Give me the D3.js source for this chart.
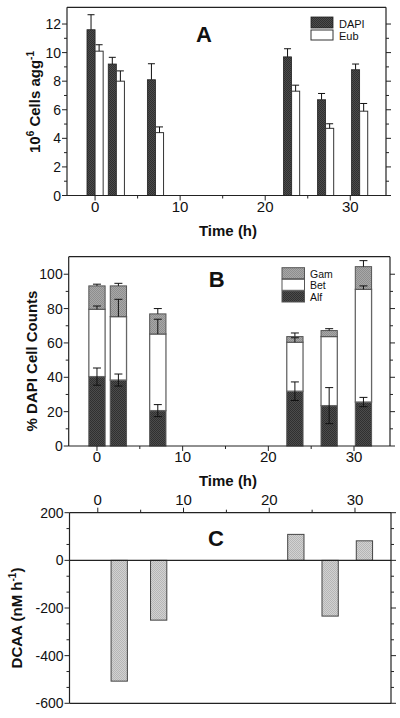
<!DOCTYPE html>
<html><head><meta charset="utf-8">
<script src="https://cdn.jsdelivr.net/npm/d3@7"></script>
<style>
html,body{margin:0;padding:0;background:#fff;}
svg{display:block;font-family:"Liberation Sans",Arial,sans-serif;}
</style></head>
<body>
<svg id="chart" width="400" height="718"></svg>
<script>
// ---- data ----
const times = [0, 2.5, 7.1, 23.1, 27.1, 31.1];
// Panel A
const dapi = [11.6, 9.2, 8.1, 9.7, 6.7, 8.8];
const dapiErr = [1.05, 0.47, 1.12, 0.57, 0.44, 0.4];
const eub = [10.1, 8.0, 4.4, 7.3, 4.7, 5.9];
const eubErr = [0.45, 0.72, 0.4, 0.42, 0.32, 0.54];
// Panel B (stacked percentages)
const alf = [40.4, 38.4, 20.6, 31.9, 23.5, 25.6];
const alfErr = [5.0, 3.5, 3.5, 5.4, 10.5, 2.7];
const bet = [39.2, 36.9, 44.6, 28.5, 40.2, 65.6];
const betErr = [1.9, 10.1, 8.6, 2.6, 0, 2.0];
const gam = [13.6, 17.9, 11.7, 3.3, 3.5, 13.2];
const gamErr = [1.0, 1.5, 3.1, 2.1, 1.1, 3.5];
// Panel C
const timesC = [2.5, 7.1, 23.1, 27.1, 31.1];
const dcaa = [-507, -251, 109, -234, 82];
// ticks
const xTicks = [0, 10, 20, 30];
const xMinor = [5, 15, 25];
const yTicksA = [0, 2, 4, 6, 8, 10, 12];
const yTicksB = [0, 20, 40, 60, 80, 100];
const yTicksC = [-600, -400, -200, 0, 200];

const svg = d3.select("#chart");
const defs = svg.append("defs");
function stipple(id, c1, c2) {
  const p = defs.append("pattern").attr("id", id).attr("width", 2).attr("height", 2)
    .attr("patternUnits", "userSpaceOnUse");
  p.append("rect").attr("width", 2).attr("height", 2).attr("fill", c1);
  p.append("rect").attr("width", 1).attr("height", 1).attr("fill", c2);
  p.append("rect").attr("x", 1).attr("y", 1).attr("width", 1).attr("height", 1).attr("fill", c2);
}
stipple("pDark", "#4c4c4c", "#303030");
stipple("pGam", "#a8a8a8", "#8e8e8e");
stipple("pC", "#d2d2d2", "#b6b6b6");

const AX = "#222";
const tickFont = 14;

function frame(g, x, y, opts) {
  const [x0, x1] = x.range();
  const [y0, y1] = y.range();
  const lw = 1.2;
  g.append("line").attr("x1", x0).attr("x2", x0).attr("y1", y1).attr("y2", y0).attr("stroke", AX).attr("stroke-width", lw);
  g.append("line").attr("x1", x1).attr("x2", x1).attr("y1", y1).attr("y2", y0).attr("stroke", AX).attr("stroke-width", lw);
  g.append("line").attr("x1", x0).attr("x2", x1).attr("y1", y1).attr("y2", y1).attr("stroke", AX).attr("stroke-width", lw);
  g.append("line").attr("x1", x0).attr("x2", x1).attr("y1", y0).attr("y2", y0).attr("stroke", AX).attr("stroke-width", lw);
  opts.yMajor.forEach(v => {
    const yy = y(v);
    g.append("line").attr("x1", x0 - 5).attr("x2", x0).attr("y1", yy).attr("y2", yy).attr("stroke", AX);
    g.append("line").attr("x1", x1).attr("x2", x1 + 5).attr("y1", yy).attr("y2", yy).attr("stroke", AX);
    g.append("text").attr("x", x0 - 6).attr("y", yy).attr("dy", "0.36em").attr("text-anchor", "end")
      .attr("font-size", tickFont).attr("fill", "#111").text(v);
  });
  opts.yMinor.forEach(v => {
    const yy = y(v);
    g.append("line").attr("x1", x0 - 3).attr("x2", x0).attr("y1", yy).attr("y2", yy).attr("stroke", AX);
    g.append("line").attr("x1", x1).attr("x2", x1 + 3).attr("y1", yy).attr("y2", yy).attr("stroke", AX);
  });
  const ax = opts.xTop ? y1 : y0;
  const dir = opts.xTop ? -1 : 1;
  xTicks.forEach(v => {
    const xx = x(v);
    g.append("line").attr("x1", xx).attr("x2", xx).attr("y1", ax).attr("y2", ax + dir * 5).attr("stroke", AX);
    g.append("text").attr("x", xx).attr("y", opts.xTop ? ax - 8 : ax + 16).attr("text-anchor", "middle")
      .attr("font-size", 15).attr("fill", "#111").text(v);
  });
  xMinor.forEach(v => {
    const xx = x(v);
    g.append("line").attr("x1", xx).attr("x2", xx).attr("y1", ax).attr("y2", ax + dir * 3).attr("stroke", AX);
  });
}

function errBar(g, cx, yTop, yBot, capW, both) {
  g.append("line").attr("x1", cx).attr("x2", cx).attr("y1", yTop).attr("y2", yBot).attr("stroke", "#111").attr("stroke-width", 1);
  g.append("line").attr("x1", cx - capW / 2).attr("x2", cx + capW / 2).attr("y1", yTop).attr("y2", yTop).attr("stroke", "#111").attr("stroke-width", 1);
  if (both) g.append("line").attr("x1", cx - capW / 2).attr("x2", cx + capW / 2).attr("y1", yBot).attr("y2", yBot).attr("stroke", "#111").attr("stroke-width", 1);
}

// ================= Panel A =================
{
  const g = svg.append("g");
  const x = d3.scaleLinear().domain([-3.3, 34.2]).range([67, 386]);
  const y = d3.scaleLinear().domain([0, 13.17]).range([195.5, 7.3]);
  const w = 0.95;
  times.forEach((t, i) => {
    const xl = x(t - w), xr = x(t);
    g.append("rect").attr("x", xl).attr("y", y(dapi[i])).attr("width", xr - xl).attr("height", y(0) - y(dapi[i]))
      .attr("fill", "url(#pDark)").attr("stroke", "#222").attr("stroke-width", 0.8);
    errBar(g, (xl + xr) / 2, y(dapi[i] + dapiErr[i]), y(dapi[i]), 7, false);
  });
  times.forEach((t, i) => {
    const xl = x(t), xr = x(t + w);
    g.append("rect").attr("x", xl).attr("y", y(eub[i])).attr("width", xr - xl).attr("height", y(0) - y(eub[i]))
      .attr("fill", "#fff").attr("stroke", "#333").attr("stroke-width", 1);
    errBar(g, (xl + xr) / 2, y(eub[i] + eubErr[i]), y(eub[i]), 7, false);
  });
  frame(g, x, y, { yMajor: yTicksA, yMinor: d3.range(1, 13, 2), xTop: false });
  g.append("rect").attr("x", 311).attr("y", 17).attr("width", 22).attr("height", 11).attr("fill", "url(#pDark)").attr("stroke", "#222").attr("stroke-width", 0.8);
  g.append("rect").attr("x", 311).attr("y", 30).attr("width", 22).attr("height", 10).attr("fill", "#fff").attr("stroke", "#333");
  g.append("text").attr("x", 339).attr("y", 27.5).attr("font-size", 11).attr("fill", "#111").text("DAPI");
  g.append("text").attr("x", 339).attr("y", 40).attr("font-size", 11).attr("fill", "#111").text("Eub");
  g.append("text").attr("x", 204).attr("y", 41.5).attr("text-anchor", "middle").attr("font-size", 22).attr("font-weight", "bold").attr("fill", "#111").text("A");
  g.append("text").attr("x", 228).attr("y", 236).attr("text-anchor", "middle").attr("font-size", 15).attr("font-weight", "bold").attr("fill", "#111").text("Time (h)");
  const yt = g.append("text").attr("transform", "translate(40,102) rotate(-90)").attr("text-anchor", "middle")
    .attr("font-size", 15).attr("font-weight", "bold").attr("fill", "#111");
  yt.append("tspan").text("10");
  yt.append("tspan").attr("font-size", 10).attr("dy", -6).text("6");
  yt.append("tspan").attr("dy", 6).text(" Cells agg");
  yt.append("tspan").attr("font-size", 10).attr("dy", -6).text("-1");
}

// ================= Panel B =================
{
  const g = svg.append("g");
  const x = d3.scaleLinear().domain([-3.3, 34.2]).range([68.7, 390]);
  const y = d3.scaleLinear().domain([0, 110.2]).range([446, 256.7]);
  const w = 1.9;
  times.forEach((t, i) => {
    const xl = x(t - w / 2), xr = x(t + w / 2), cx = (xl + xr) / 2;
    const a = alf[i], b = a + bet[i], c = b + gam[i];
    g.append("rect").attr("x", xl).attr("y", y(a)).attr("width", xr - xl).attr("height", y(0) - y(a))
      .attr("fill", "url(#pDark)").attr("stroke", "#555").attr("stroke-width", 1);
    g.append("rect").attr("x", xl).attr("y", y(b)).attr("width", xr - xl).attr("height", y(a) - y(b))
      .attr("fill", "#fff").attr("stroke", "#666").attr("stroke-width", 1.3);
    g.append("rect").attr("x", xl).attr("y", y(c)).attr("width", xr - xl).attr("height", y(b) - y(c))
      .attr("fill", "url(#pGam)").attr("stroke", "#555").attr("stroke-width", 1);
    errBar(g, cx, y(a + alfErr[i]), y(a - alfErr[i]), 8, true);
    if (betErr[i] > 0) errBar(g, cx, y(b + betErr[i]), y(b), 8, false);
    errBar(g, cx, y(c + gamErr[i]), y(c), 8, false);
  });
  frame(g, x, y, { yMajor: yTicksB, yMinor: d3.range(10, 110, 20), xTop: false });
  const lg = [["Gam", "url(#pGam)", 267.7], ["Bet", "#fff", 279.3], ["Alf", "url(#pDark)", 291]];
  lg.forEach(([name, fill, yy]) => {
    g.append("rect").attr("x", 282).attr("y", yy).attr("width", 22.5).attr("height", 11)
      .attr("fill", fill).attr("stroke", "#555").attr("stroke-width", 1);
    g.append("text").attr("x", 310).attr("y", yy + 9.8).attr("font-size", 10.5).attr("fill", "#111").text(name);
  });
  g.append("text").attr("x", 216.7).attr("y", 286.5).attr("text-anchor", "middle").attr("font-size", 22).attr("font-weight", "bold").attr("fill", "#111").text("B");
  g.append("text").attr("x", 228).attr("y", 486).attr("text-anchor", "middle").attr("font-size", 15).attr("font-weight", "bold").attr("fill", "#111").text("Time (h)");
  g.append("text").attr("transform", "translate(37,361) rotate(-90)").attr("text-anchor", "middle")
    .attr("font-size", 15).attr("font-weight", "bold").attr("fill", "#111").text("% DAPI Cell Counts");
}

// ================= Panel C =================
{
  const g = svg.append("g");
  const x = d3.scaleLinear().domain([-3.3, 34.2]).range([69.5, 391]);
  const y = d3.scaleLinear().domain([-600, 200]).range([703.3, 512.7]);
  const w = 1.9;
  timesC.forEach((t, i) => {
    const xl = x(t - w / 2), xr = x(t + w / 2);
    const v = dcaa[i];
    g.append("rect").attr("x", xl).attr("y", y(Math.max(0, v))).attr("width", xr - xl)
      .attr("height", Math.abs(y(v) - y(0)))
      .attr("fill", "url(#pC)").attr("stroke", "#444").attr("stroke-width", 1);
  });
  g.append("line").attr("x1", x.range()[0]).attr("x2", x.range()[1]).attr("y1", y(0)).attr("y2", y(0)).attr("stroke", AX).attr("stroke-width", 1.2);
  const minorC = [];
  for (let v = -600; v < 200; v += 200) { minorC.push(v + 200 / 3, v + 400 / 3); }
  frame(g, x, y, { yMajor: yTicksC, yMinor: minorC, xTop: true });
  g.append("text").attr("x", 216).attr("y", 545.5).attr("text-anchor", "middle").attr("font-size", 22).attr("font-weight", "bold").attr("fill", "#111").text("C");
  const yt = g.append("text").attr("transform", "translate(22,618) rotate(-90)").attr("text-anchor", "middle")
    .attr("font-size", 15).attr("font-weight", "bold").attr("fill", "#111");
  yt.append("tspan").text("DCAA (nM h");
  yt.append("tspan").attr("font-size", 10).attr("dy", -6).text("-1");
  yt.append("tspan").attr("dy", 6).text(")");
}
</script>
</body></html>
